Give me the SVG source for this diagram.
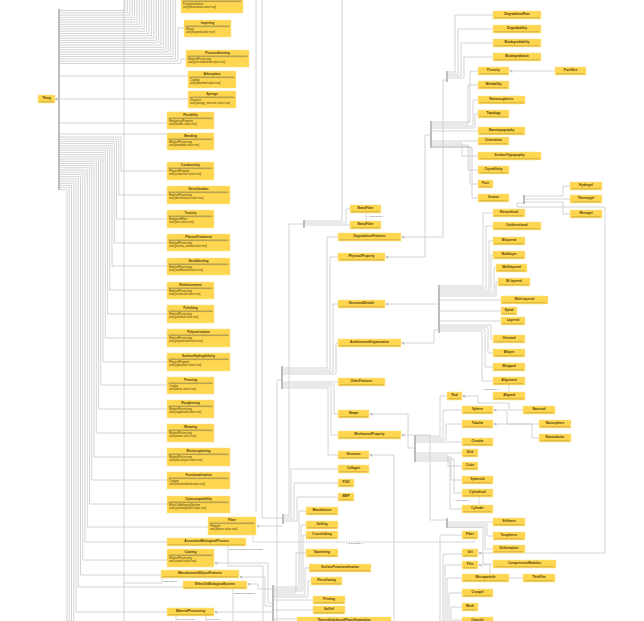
<svg xmlns="http://www.w3.org/2000/svg" width="644" height="621" viewBox="0 0 644 621">
<style>
.b{fill:#FFD64F;stroke:#FFE38F;stroke-width:.5}
.u{stroke:#B09838;stroke-width:.6}
.dv{fill:#B8A24F}
.t{font-family:"Liberation Sans",Arial,sans-serif;font-weight:bold;font-size:3.2px;fill:#4D3D08;text-anchor:middle}
.a{font-family:"Liberation Sans",Arial,sans-serif;font-size:2.7px;fill:#4D3D08}
.l{font-family:"Liberation Sans",Arial,sans-serif;font-size:2.5px;fill:#666}
.c path{fill:none;stroke:#C9C9C9;stroke-width:.8;stroke-linejoin:round}
.c path.m{marker-end:url(#ar)}
.k{fill:#BDBDBD}
.c path.eq{stroke:#AAA;stroke-dasharray:1.5 1;stroke-width:.7}
</style>
<defs>
<marker id="ar" viewBox="0 0 4 4" refX="3.5" refY="2" markerWidth="3" markerHeight="3" markerUnits="userSpaceOnUse" orient="auto"><path d="M0,0.3 L3.5,2 L0,3.7" fill="none" stroke="#999" stroke-width="0.8"/></marker>
</defs>
<rect width="644" height="621" fill="#fff"/>
<g id="connectors" class="c">
<rect class="k" x="58" y="9" width="2" height="181"/>
<path class="m" d="M58,99H55.5"/>
<path d="M60,10.5H125V0M60,12.8H127.4V0M60,15.1H129.8V0M60,17.4H132.2V0M60,19.7H134.6V0M60,22H137V0M60,24.3H139.4V0M60,26.6H141.8V0M60,28.9H144.2V0M60,31.2H146.6V0M60,33.5H149V0M60,35.8H151.4V0M60,38.1H153.8V0M60,40.4H156.2V0M60,42.7H158.6V0M60,45H161V0M60,47.3H163.4V0M60,49.6H165.8V0M60,51.9H168.2V0M60,54.2H170.6V0M60,56.5H173V0M60,58.8H175.4V0"/>
<path d="M60,61.1H178V28H184M60,63.4H181V59H186M60,76H188M60,99H188M60,123H167M60,134H167"/>
<path d="M60,137H121V171H167M60,139.2H118.75V195H167M60,141.4H116.5V219H167M60,143.6H114.25V243H167M60,145.8H112V266H167M60,148H109.75V290H167M60,150.2H107.5V314H167M60,152.4H105.25V338H167M60,154.6H103V362H167M60,156.8H100.75V385H167M60,159H98.5V409H167M60,161.2H96.25V433H167M60,163.4H94V457H167M60,165.6H91.75V480H167M60,167.8H89.5V504H167M60,170H87.25V527H208M60,172.2H85V542H167M60,174.4H82.75V560H167M60,176.6H80.5V575H161M60,178.8H78.25V587H183M60,181H76V612H167M60,183.2H73.75V621M60,185.4H71.5V621M60,187.6H69.25V621M60,189.8H67V621"/>
<path d="M124,0V621M124,583H162V578"/>
<path d="M228,546V566H263V621M233,589V621M176,616V621M206,616V621"/>
<rect class="k" x="281" y="366" width="2" height="23"/>
<path d="M283,368H327V237H338M283,370H330V257H338M283,372H333V304H338M283,374H336V343H338M283,382H338M283,384H334V414H338M283,386H331V435H338M283,388H328V455H338M281,380H277V621"/>
<rect class="k" x="303" y="220" width="2" height="8"/>
<path d="M305,221H342V0M305,223H346V209H350M305,225H350M303,224H289V515H284"/>
<rect class="k" x="282" y="514" width="2" height="10"/>
<path d="M284,517H291V469H338M284,519H294V483H338M284,521H297V497H338M262,0V518H282M256,0V512"/>
<path class="m" d="M282,526H257"/>
<path class="eq" d="M253,535V542H474V539"/>
<rect class="k" x="272" y="585" width="2" height="36"/>
<path d="M274,587H299V511H306M274,589H301V525H306M274,591H303V535H306M274,593H296V553H306M274,595H305V568H309M274,597H308V581H311M274,600H313M274,610H313M274,619H297"/>
<path class="m" d="M272,603H268V563H215"/>
<path class="m" d="M272,606H265V577H240"/>
<path class="m" d="M272,589H258V584H248"/>
<path class="m" d="M272,612H215"/>
<rect class="k" x="446" y="71" width="2" height="11"/>
<path d="M448,72H455V15H493M448,74H458V29H493M448,76H461V43H493M448,78H464V57H493"/>
<path class="m" d="M446,80H443V237H402"/>
<rect class="k" x="430" y="121" width="2" height="27"/>
<path d="M432,122H470V71H478M432,124H468V85H478M432,126H473V100H478M432,128H475V114H478M432,131H478M432,141H478M432,143H462V156H478M432,145H468V170H478M432,146.5H470V184H478M432,147.5H472V198H478"/>
<path class="m" d="M430,135H425V257H386"/>
<rect class="k" x="438" y="285" width="2" height="48"/>
<path d="M440,286H483V213H493M440,288H486V226H493M440,290H489V241H493M440,292H491V255H493M440,294H494V268H496M440,296H496V282H498M440,300H501M440,311H501M440,321H501M440,325H491V339H493M440,327H488V353H493M440,329H485V367H493M440,331H482V381H493"/>
<path class="m" d="M438,304H386"/>
<path class="m" d="M438,330H434V343H402"/>
<rect class="k" x="414" y="435" width="2" height="27"/>
<path class="m" d="M414,448H408V414H370"/>
<path d="M416,436H440V396H447M416,438H443V410H462M416,440H446V424H462M416,442H462M416,453H462M416,455H448V466H462M416,457H451V480H462M416,459H454V493H462M416,461H450V509H462"/>
<path d="M440,621V535H462M443,621V554H462M445,621V565H462M447,621V578H462M449,621V593H462M451,621V607H462M453,621V620H462"/>
<rect class="k" x="446" y="518" width="2" height="10"/>
<path d="M448,522H493M448,524H487V536H493M448,526H485V549H493M448,527.5H483V564H493"/>
<path class="m" d="M446,520H430V435H402"/>
<path class="m" d="M394,621V455H370"/>
<rect class="k" x="523" y="195" width="2" height="9"/>
<path d="M525,196H563V186H570M525,199H570M525,202H563V214H570"/>
<path class="m" d="M523,203H517V207H605V553H479"/>
<path class="m" d="M523,578H490V565H479"/>
<path class="m" d="M523,410H509V403H478V396H463"/>
<path class="m" d="M539,424H507V410H494"/>
<path class="m" d="M539,438H532V424H494"/>
<path class="m" d="M555,71H510"/>
<path class="eq" d="M366,213V221M509,385V392M479,497V505"/>
<text class="l" x="367" y="217">&lt;&lt;equivalent&gt;&gt;</text>
<text class="l" x="482" y="389.5">&lt;&lt;equivalent&gt;&gt;</text>
<text class="l" x="453" y="501">&lt;&lt;equivalent&gt;&gt;</text>
<text class="l" x="346" y="543.5">&lt;&lt;equivalent&gt;&gt;</text>
<text class="l" x="229" y="550">hasAssociatedCellularProcess</text>
<text class="l" x="163" y="582">hasFeatures</text>
<text class="l" x="234" y="594">hasBiologicalEffect</text>
<text class="l" x="177" y="620">isIncorporatedIn</text>
<text class="l" x="207" y="620">isFormedIn</text>
</g>
<g id="Thing"><rect class="b" x="38" y="95" width="17" height="8"/><text class="t" x="46.5" y="99.4">Thing</text><line class="u" x1="39.5" y1="101.8" x2="53.5" y2="101.8"/></g>
<g id="TopClass"><rect class="b" x="181" y="-5" width="62" height="18"/><rect class="dv" x="182.5" y="0.5" width="59" height="1.6"/><text class="a" x="183" y="4.8">Functionalization</text><text class="a" x="183" y="7.8">and [bifunctional value true]</text></g>
<g id="Inspiring"><rect class="b" x="184" y="20" width="47" height="17"/><text class="t" x="207.5" y="24.2">Inspiring</text><rect class="dv" x="185.5" y="25.5" width="44" height="1.6"/><text class="a" x="186" y="29.6">Mixing</text><text class="a" x="186" y="32.6">and [inspired value true]</text></g>
<g id="Preconditioning"><rect class="b" x="186" y="50" width="63" height="17"/><text class="t" x="217.5" y="54.2">Preconditioning</text><rect class="dv" x="187.5" y="55.5" width="60" height="1.6"/><text class="a" x="188" y="59.6">MaterialProcessing</text><text class="a" x="188" y="62.6">and [preconditioned value true]</text></g>
<g id="Adsorption"><rect class="b" x="188" y="71" width="48" height="17"/><text class="t" x="212" y="75.2">Adsorption</text><rect class="dv" x="189.5" y="76.5" width="45" height="1.6"/><text class="a" x="190" y="80.6">Coating</text><text class="a" x="190" y="83.6">and [adsorbed value true]</text></g>
<g id="Sponge"><rect class="b" x="188" y="91" width="48" height="17"/><text class="t" x="212" y="95.2">Sponge</text><rect class="dv" x="189.5" y="96.5" width="45" height="1.6"/><text class="a" x="190" y="100.6">Structure</text><text class="a" x="190" y="103.6">and [spongy_structure value true]</text></g>
<g id="Flexibility"><rect class="b" x="167" y="112" width="47" height="17"/><text class="t" x="190.5" y="116.2">Flexibility</text><rect class="dv" x="168.5" y="117.5" width="44" height="1.6"/><text class="a" x="169" y="121.6">MechanicalProperty</text><text class="a" x="169" y="124.6">and [flexible value true]</text></g>
<g id="Bending"><rect class="b" x="167" y="133" width="47" height="17"/><text class="t" x="190.5" y="137.2">Bending</text><rect class="dv" x="168.5" y="138.5" width="44" height="1.6"/><text class="a" x="169" y="142.6">MaterialProcessing</text><text class="a" x="169" y="145.6">and [bendable value true]</text></g>
<g id="Conductivity"><rect class="b" x="167" y="162" width="47" height="18"/><text class="t" x="190.5" y="166.2">Conductivity</text><rect class="dv" x="168.5" y="167.5" width="44" height="1.6"/><text class="a" x="169" y="171.6">PhysicalProperty</text><text class="a" x="169" y="174.6">and [conductive value true]</text></g>
<g id="Densification"><rect class="b" x="167" y="186" width="63" height="18"/><text class="t" x="198.5" y="190.2">Densification</text><rect class="dv" x="168.5" y="191.5" width="60" height="1.6"/><text class="a" x="169" y="195.6">MaterialProcessing</text><text class="a" x="169" y="198.6">and [densification value true]</text></g>
<g id="Toxicity"><rect class="b" x="167" y="210" width="47" height="18"/><text class="t" x="190.5" y="214.2">Toxicity</text><rect class="dv" x="168.5" y="215.5" width="44" height="1.6"/><text class="a" x="169" y="219.6">BiologicalEffect</text><text class="a" x="169" y="222.6">and [toxic value true]</text></g>
<g id="PlasmaTreatment"><rect class="b" x="167" y="234" width="63" height="17"/><text class="t" x="198.5" y="238.2">PlasmaTreatment</text><rect class="dv" x="168.5" y="239.5" width="60" height="1.6"/><text class="a" x="169" y="243.6">MaterialProcessing</text><text class="a" x="169" y="246.6">and [plasma_treated value true]</text></g>
<g id="Sandblasting"><rect class="b" x="167" y="258" width="63" height="17"/><text class="t" x="198.5" y="262.2">Sandblasting</text><rect class="dv" x="168.5" y="263.5" width="60" height="1.6"/><text class="a" x="169" y="267.6">MaterialProcessing</text><text class="a" x="169" y="270.6">and [sandblasted value true]</text></g>
<g id="Reinforcement"><rect class="b" x="167" y="282" width="47" height="17"/><text class="t" x="190.5" y="286.2">Reinforcement</text><rect class="dv" x="168.5" y="287.5" width="44" height="1.6"/><text class="a" x="169" y="291.6">MaterialProcessing</text><text class="a" x="169" y="294.6">and [reinforced value true]</text></g>
<g id="Polishing"><rect class="b" x="167" y="305" width="47" height="18"/><text class="t" x="190.5" y="309.2">Polishing</text><rect class="dv" x="168.5" y="310.5" width="44" height="1.6"/><text class="a" x="169" y="314.6">MaterialProcessing</text><text class="a" x="169" y="317.6">and [polished value true]</text></g>
<g id="Polymerization"><rect class="b" x="167" y="329" width="63" height="18"/><text class="t" x="198.5" y="333.2">Polymerization</text><rect class="dv" x="168.5" y="334.5" width="60" height="1.6"/><text class="a" x="169" y="338.6">MaterialProcessing</text><text class="a" x="169" y="341.6">and [polymerized value true]</text></g>
<g id="SurfaceHydrophilicity"><rect class="b" x="167" y="353" width="63" height="18"/><text class="t" x="198.5" y="357.2">SurfaceHydrophilicity</text><rect class="dv" x="168.5" y="358.5" width="60" height="1.6"/><text class="a" x="169" y="362.6">PhysicalProperty</text><text class="a" x="169" y="365.6">and [hydrophilic value true]</text></g>
<g id="Freezing"><rect class="b" x="167" y="377" width="47" height="17"/><text class="t" x="190.5" y="381.2">Freezing</text><rect class="dv" x="168.5" y="382.5" width="44" height="1.6"/><text class="a" x="169" y="386.6">Cooling</text><text class="a" x="169" y="389.6">and [frozen value true]</text></g>
<g id="Roughening"><rect class="b" x="167" y="400" width="47" height="18"/><text class="t" x="190.5" y="404.2">Roughening</text><rect class="dv" x="168.5" y="405.5" width="44" height="1.6"/><text class="a" x="169" y="409.6">MaterialProcessing</text><text class="a" x="169" y="412.6">and [roughened value true]</text></g>
<g id="Weaving"><rect class="b" x="167" y="424" width="47" height="18"/><text class="t" x="190.5" y="428.2">Weaving</text><rect class="dv" x="168.5" y="429.5" width="44" height="1.6"/><text class="a" x="169" y="433.6">MaterialProcessing</text><text class="a" x="169" y="436.6">and [woven value true]</text></g>
<g id="Electrospinning"><rect class="b" x="167" y="448" width="63" height="18"/><text class="t" x="198.5" y="452.2">Electrospinning</text><rect class="dv" x="168.5" y="453.5" width="60" height="1.6"/><text class="a" x="169" y="457.6">MaterialProcessing</text><text class="a" x="169" y="460.6">and [electrospun value true]</text></g>
<g id="Functionalization"><rect class="b" x="167" y="472" width="63" height="17"/><text class="t" x="198.5" y="476.2">Functionalization</text><rect class="dv" x="168.5" y="477.5" width="60" height="1.6"/><text class="a" x="169" y="481.6">Coating</text><text class="a" x="169" y="484.6">and [functionalized value true]</text></g>
<g id="Cytocompatibility"><rect class="b" x="167" y="496" width="63" height="17"/><text class="t" x="198.5" y="500.2">Cytocompatibility</text><rect class="dv" x="168.5" y="501.5" width="60" height="1.6"/><text class="a" x="169" y="505.6">EffectOnBiologicalSystem</text><text class="a" x="169" y="508.6">and [cytocompatible value true]</text></g>
<g id="FiberL"><rect class="b" x="208" y="517" width="48" height="18"/><text class="t" x="232" y="521.2">Fiber</text><rect class="dv" x="209.5" y="522.5" width="45" height="1.6"/><text class="a" x="210" y="526.6">Filament</text><text class="a" x="210" y="529.6">and [fibrous value true]</text></g>
<g id="Coating"><rect class="b" x="167" y="549" width="47" height="18"/><text class="t" x="190.5" y="553.2">Coating</text><rect class="dv" x="168.5" y="554.5" width="44" height="1.6"/><text class="a" x="169" y="558.6">MaterialProcessing</text><text class="a" x="169" y="561.6">and [coated value true]</text></g>
<g id="AssociatedBiologicalProcess"><rect class="b" x="167" y="538" width="79" height="8"/><text class="t" x="206.5" y="542.4">AssociatedBiologicalProcess</text><line class="u" x1="168.5" y1="544.8" x2="244.5" y2="544.8"/></g>
<g id="ManufacturedObjectFeatures"><rect class="b" x="161" y="570" width="78" height="8"/><text class="t" x="200" y="574.4">ManufacturedObjectFeatures</text><line class="u" x1="162.5" y1="576.8" x2="237.5" y2="576.8"/></g>
<g id="EffectOnBiologicalSystem"><rect class="b" x="183" y="581" width="64" height="8"/><text class="t" x="215" y="585.4">EffectOnBiologicalSystem</text><line class="u" x1="184.5" y1="587.8" x2="245.5" y2="587.8"/></g>
<g id="MaterialProcessing"><rect class="b" x="167" y="608" width="47" height="8"/><text class="t" x="190.5" y="612.4">MaterialProcessing</text><line class="u" x1="168.5" y1="614.8" x2="212.5" y2="614.8"/></g>
<g id="NanoFiber1"><rect class="b" x="350" y="205" width="31" height="8"/><text class="t" x="365.5" y="209.4">NanoFiber</text><line class="u" x1="351.5" y1="211.8" x2="379.5" y2="211.8"/></g>
<g id="NanoFiber2"><rect class="b" x="350" y="221" width="31" height="8"/><text class="t" x="365.5" y="225.4">NanoFiber</text><line class="u" x1="351.5" y1="227.8" x2="379.5" y2="227.8"/></g>
<g id="DegradationFeatures"><rect class="b" x="338" y="233" width="63" height="8"/><text class="t" x="369.5" y="237.4">DegradationFeatures</text><line class="u" x1="339.5" y1="239.8" x2="399.5" y2="239.8"/></g>
<g id="PhysicalProperty"><rect class="b" x="338" y="253" width="47" height="8"/><text class="t" x="361.5" y="257.4">PhysicalProperty</text><line class="u" x1="339.5" y1="259.8" x2="383.5" y2="259.8"/></g>
<g id="StructuralDetails"><rect class="b" x="338" y="300" width="47" height="8"/><text class="t" x="361.5" y="304.4">StructuralDetails</text><line class="u" x1="339.5" y1="306.8" x2="383.5" y2="306.8"/></g>
<g id="ArchitecturalOrganization"><rect class="b" x="338" y="339" width="63" height="8"/><text class="t" x="369.5" y="343.4">ArchitecturalOrganization</text><line class="u" x1="339.5" y1="345.8" x2="399.5" y2="345.8"/></g>
<g id="OtherFeatures"><rect class="b" x="338" y="378" width="47" height="8"/><text class="t" x="361.5" y="382.4">OtherFeatures</text><line class="u" x1="339.5" y1="384.8" x2="383.5" y2="384.8"/></g>
<g id="Shape"><rect class="b" x="338" y="410" width="31" height="8"/><text class="t" x="353.5" y="414.4">Shape</text><line class="u" x1="339.5" y1="416.8" x2="367.5" y2="416.8"/></g>
<g id="MechanicalProperty"><rect class="b" x="338" y="431" width="63" height="8"/><text class="t" x="369.5" y="435.4">MechanicalProperty</text><line class="u" x1="339.5" y1="437.8" x2="399.5" y2="437.8"/></g>
<g id="Structure"><rect class="b" x="338" y="451" width="31" height="8"/><text class="t" x="353.5" y="455.4">Structure</text><line class="u" x1="339.5" y1="457.8" x2="367.5" y2="457.8"/></g>
<g id="Collagen"><rect class="b" x="338" y="465" width="31" height="8"/><text class="t" x="353.5" y="469.4">Collagen</text><line class="u" x1="339.5" y1="471.8" x2="367.5" y2="471.8"/></g>
<g id="PGD"><rect class="b" x="338" y="479" width="16" height="8"/><text class="t" x="346" y="483.4">PGD</text><line class="u" x1="339.5" y1="485.8" x2="352.5" y2="485.8"/></g>
<g id="BMP"><rect class="b" x="338" y="493" width="16" height="8"/><text class="t" x="346" y="497.4">BMP</text><line class="u" x1="339.5" y1="499.8" x2="352.5" y2="499.8"/></g>
<g id="Manufacture"><rect class="b" x="306" y="507" width="32" height="8"/><text class="t" x="322" y="511.4">Manufacture</text><line class="u" x1="307.5" y1="513.8" x2="336.5" y2="513.8"/></g>
<g id="Gelling"><rect class="b" x="306" y="521" width="32" height="8"/><text class="t" x="322" y="525.4">Gelling</text><line class="u" x1="307.5" y1="527.8" x2="336.5" y2="527.8"/></g>
<g id="Crosslinking"><rect class="b" x="306" y="531" width="32" height="8"/><text class="t" x="322" y="535.4">Crosslinking</text><line class="u" x1="307.5" y1="537.8" x2="336.5" y2="537.8"/></g>
<g id="Sputtering"><rect class="b" x="306" y="549" width="32" height="8"/><text class="t" x="322" y="553.4">Sputtering</text><line class="u" x1="307.5" y1="555.8" x2="336.5" y2="555.8"/></g>
<g id="SurfaceFunctionalization"><rect class="b" x="309" y="564" width="62" height="8"/><text class="t" x="340" y="568.4">SurfaceFunctionalization</text><line class="u" x1="310.5" y1="570.8" x2="369.5" y2="570.8"/></g>
<g id="Resurfacing"><rect class="b" x="311" y="577" width="31" height="8"/><text class="t" x="326.5" y="581.4">Resurfacing</text><line class="u" x1="312.5" y1="583.8" x2="340.5" y2="583.8"/></g>
<g id="Printing"><rect class="b" x="313" y="596" width="32" height="8"/><text class="t" x="329" y="600.4">Printing</text><line class="u" x1="314.5" y1="602.8" x2="343.5" y2="602.8"/></g>
<g id="SolGel"><rect class="b" x="313" y="606" width="32" height="8"/><text class="t" x="329" y="610.4">SolGel</text><line class="u" x1="314.5" y1="612.8" x2="343.5" y2="612.8"/></g>
<g id="ThermallyInducedPhaseSeparation"><rect class="b" x="297" y="617" width="94" height="8"/><text class="t" x="344" y="621.2">ThermallyInducedPhaseSeparation</text></g>
<g id="DegradationRate"><rect class="b" x="493" y="11" width="48" height="8"/><text class="t" x="517" y="15.4">DegradationRate</text><line class="u" x1="494.5" y1="17.8" x2="539.5" y2="17.8"/></g>
<g id="Degradability"><rect class="b" x="493" y="25" width="48" height="8"/><text class="t" x="517" y="29.4">Degradability</text><line class="u" x1="494.5" y1="31.8" x2="539.5" y2="31.8"/></g>
<g id="Biodegradability"><rect class="b" x="493" y="39" width="48" height="8"/><text class="t" x="517" y="43.4">Biodegradability</text><line class="u" x1="494.5" y1="45.8" x2="539.5" y2="45.8"/></g>
<g id="Biodegradation"><rect class="b" x="493" y="53" width="48" height="8"/><text class="t" x="517" y="57.4">Biodegradation</text><line class="u" x1="494.5" y1="59.8" x2="539.5" y2="59.8"/></g>
<g id="Porosity"><rect class="b" x="478" y="67" width="31" height="8"/><text class="t" x="493.5" y="71.4">Porosity</text><line class="u" x1="479.5" y1="73.8" x2="507.5" y2="73.8"/></g>
<g id="PoreSize"><rect class="b" x="555" y="67" width="31" height="8"/><text class="t" x="570.5" y="71.4">PoreSize</text><line class="u" x1="556.5" y1="73.8" x2="584.5" y2="73.8"/></g>
<g id="Wettability"><rect class="b" x="478" y="81" width="31" height="8"/><text class="t" x="493.5" y="85.4">Wettability</text><line class="u" x1="479.5" y1="87.8" x2="507.5" y2="87.8"/></g>
<g id="Nanoroughness"><rect class="b" x="478" y="96" width="47" height="8"/><text class="t" x="501.5" y="100.4">Nanoroughness</text><line class="u" x1="479.5" y1="102.8" x2="523.5" y2="102.8"/></g>
<g id="Topology"><rect class="b" x="478" y="110" width="31" height="8"/><text class="t" x="493.5" y="114.4">Topology</text><line class="u" x1="479.5" y1="116.8" x2="507.5" y2="116.8"/></g>
<g id="Nanotopography"><rect class="b" x="478" y="127" width="47" height="8"/><text class="t" x="501.5" y="131.4">Nanotopography</text><line class="u" x1="479.5" y1="133.8" x2="523.5" y2="133.8"/></g>
<g id="Orientation"><rect class="b" x="478" y="137" width="31" height="8"/><text class="t" x="493.5" y="141.4">Orientation</text><line class="u" x1="479.5" y1="143.8" x2="507.5" y2="143.8"/></g>
<g id="SurfaceTopography"><rect class="b" x="478" y="152" width="63" height="8"/><text class="t" x="509.5" y="156.4">SurfaceTopography</text><line class="u" x1="479.5" y1="158.8" x2="539.5" y2="158.8"/></g>
<g id="Crystallinity"><rect class="b" x="478" y="166" width="31" height="8"/><text class="t" x="493.5" y="170.4">Crystallinity</text><line class="u" x1="479.5" y1="172.8" x2="507.5" y2="172.8"/></g>
<g id="Pore"><rect class="b" x="478" y="180" width="15" height="8"/><text class="t" x="485.5" y="184.4">Pore</text><line class="u" x1="479.5" y1="186.8" x2="491.5" y2="186.8"/></g>
<g id="Groove"><rect class="b" x="478" y="194" width="31" height="8"/><text class="t" x="493.5" y="198.4">Groove</text><line class="u" x1="479.5" y1="200.8" x2="507.5" y2="200.8"/></g>
<g id="Hydrogel"><rect class="b" x="570" y="182" width="32" height="8"/><text class="t" x="586" y="186.4">Hydrogel</text><line class="u" x1="571.5" y1="188.8" x2="600.5" y2="188.8"/></g>
<g id="Thermogel"><rect class="b" x="570" y="195" width="32" height="8"/><text class="t" x="586" y="199.4">Thermogel</text><line class="u" x1="571.5" y1="201.8" x2="600.5" y2="201.8"/></g>
<g id="Microgel"><rect class="b" x="570" y="210" width="32" height="8"/><text class="t" x="586" y="214.4">Microgel</text><line class="u" x1="571.5" y1="216.8" x2="600.5" y2="216.8"/></g>
<g id="Hierarchical"><rect class="b" x="493" y="209" width="32" height="8"/><text class="t" x="509" y="213.4">Hierarchical</text><line class="u" x1="494.5" y1="215.8" x2="523.5" y2="215.8"/></g>
<g id="Unidirectional"><rect class="b" x="493" y="222" width="48" height="8"/><text class="t" x="517" y="226.4">Unidirectional</text><line class="u" x1="494.5" y1="228.8" x2="539.5" y2="228.8"/></g>
<g id="Bilayered"><rect class="b" x="493" y="237" width="32" height="8"/><text class="t" x="509" y="241.4">Bilayered</text><line class="u" x1="494.5" y1="243.8" x2="523.5" y2="243.8"/></g>
<g id="Multilayer"><rect class="b" x="493" y="251" width="32" height="8"/><text class="t" x="509" y="255.4">Multilayer</text><line class="u" x1="494.5" y1="257.8" x2="523.5" y2="257.8"/></g>
<g id="Multilayered"><rect class="b" x="496" y="264" width="31" height="8"/><text class="t" x="511.5" y="268.4">Multilayered</text><line class="u" x1="497.5" y1="270.8" x2="525.5" y2="270.8"/></g>
<g id="Bi-layered"><rect class="b" x="498" y="278" width="32" height="8"/><text class="t" x="514" y="282.4">Bi-layered</text><line class="u" x1="499.5" y1="284.8" x2="528.5" y2="284.8"/></g>
<g id="Multi-layered"><rect class="b" x="501" y="296" width="47" height="8"/><text class="t" x="524.5" y="300.4">Multi-layered</text><line class="u" x1="502.5" y1="302.8" x2="546.5" y2="302.8"/></g>
<g id="Spiral"><rect class="b" x="501" y="307" width="16" height="8"/><text class="t" x="509" y="311.4">Spiral</text><line class="u" x1="502.5" y1="313.8" x2="515.5" y2="313.8"/></g>
<g id="Layered"><rect class="b" x="501" y="317" width="24" height="8"/><text class="t" x="513" y="321.4">Layered</text><line class="u" x1="502.5" y1="323.8" x2="523.5" y2="323.8"/></g>
<g id="Oriented"><rect class="b" x="493" y="335" width="32" height="8"/><text class="t" x="509" y="339.4">Oriented</text><line class="u" x1="494.5" y1="341.8" x2="523.5" y2="341.8"/></g>
<g id="Bilayer"><rect class="b" x="493" y="349" width="32" height="8"/><text class="t" x="509" y="353.4">Bilayer</text><line class="u" x1="494.5" y1="355.8" x2="523.5" y2="355.8"/></g>
<g id="Wrapped"><rect class="b" x="493" y="363" width="32" height="8"/><text class="t" x="509" y="367.4">Wrapped</text><line class="u" x1="494.5" y1="369.8" x2="523.5" y2="369.8"/></g>
<g id="Alignment"><rect class="b" x="493" y="377" width="32" height="8"/><text class="t" x="509" y="381.4">Alignment</text><line class="u" x1="494.5" y1="383.8" x2="523.5" y2="383.8"/></g>
<g id="Aligned"><rect class="b" x="493" y="392" width="32" height="8"/><text class="t" x="509" y="396.4">Aligned</text><line class="u" x1="494.5" y1="398.8" x2="523.5" y2="398.8"/></g>
<g id="Rod"><rect class="b" x="447" y="392" width="15" height="8"/><text class="t" x="454.5" y="396.4">Rod</text><line class="u" x1="448.5" y1="398.8" x2="460.5" y2="398.8"/></g>
<g id="Sphere"><rect class="b" x="462" y="406" width="31" height="8"/><text class="t" x="477.5" y="410.4">Sphere</text><line class="u" x1="463.5" y1="412.8" x2="491.5" y2="412.8"/></g>
<g id="Nanorod"><rect class="b" x="523" y="406" width="32" height="8"/><text class="t" x="539" y="410.4">Nanorod</text><line class="u" x1="524.5" y1="412.8" x2="553.5" y2="412.8"/></g>
<g id="Tubular"><rect class="b" x="462" y="420" width="31" height="8"/><text class="t" x="477.5" y="424.4">Tubular</text><line class="u" x1="463.5" y1="426.8" x2="491.5" y2="426.8"/></g>
<g id="Nanosphere"><rect class="b" x="539" y="420" width="32" height="8"/><text class="t" x="555" y="424.4">Nanosphere</text><line class="u" x1="540.5" y1="426.8" x2="569.5" y2="426.8"/></g>
<g id="Nanotubular"><rect class="b" x="539" y="434" width="32" height="8"/><text class="t" x="555" y="438.4">Nanotubular</text><line class="u" x1="540.5" y1="440.8" x2="569.5" y2="440.8"/></g>
<g id="Circular"><rect class="b" x="462" y="438" width="31" height="8"/><text class="t" x="477.5" y="442.4">Circular</text><line class="u" x1="463.5" y1="444.8" x2="491.5" y2="444.8"/></g>
<g id="Disk"><rect class="b" x="462" y="449" width="16" height="8"/><text class="t" x="470" y="453.4">Disk</text><line class="u" x1="463.5" y1="455.8" x2="476.5" y2="455.8"/></g>
<g id="Cube"><rect class="b" x="462" y="462" width="16" height="8"/><text class="t" x="470" y="466.4">Cube</text><line class="u" x1="463.5" y1="468.8" x2="476.5" y2="468.8"/></g>
<g id="Spheroid"><rect class="b" x="462" y="476" width="31" height="8"/><text class="t" x="477.5" y="480.4">Spheroid</text><line class="u" x1="463.5" y1="482.8" x2="491.5" y2="482.8"/></g>
<g id="Cylindrical"><rect class="b" x="462" y="489" width="31" height="8"/><text class="t" x="477.5" y="493.4">Cylindrical</text><line class="u" x1="463.5" y1="495.8" x2="491.5" y2="495.8"/></g>
<g id="Cylinder"><rect class="b" x="462" y="505" width="31" height="8"/><text class="t" x="477.5" y="509.4">Cylinder</text><line class="u" x1="463.5" y1="511.8" x2="491.5" y2="511.8"/></g>
<g id="Stiffness"><rect class="b" x="493" y="518" width="32" height="8"/><text class="t" x="509" y="522.4">Stiffness</text><line class="u" x1="494.5" y1="524.8" x2="523.5" y2="524.8"/></g>
<g id="Toughness"><rect class="b" x="493" y="532" width="32" height="8"/><text class="t" x="509" y="536.4">Toughness</text><line class="u" x1="494.5" y1="538.8" x2="523.5" y2="538.8"/></g>
<g id="FiberR"><rect class="b" x="462" y="531" width="16" height="8"/><text class="t" x="470" y="535.4">Fiber</text><line class="u" x1="463.5" y1="537.8" x2="476.5" y2="537.8"/></g>
<g id="Deformation"><rect class="b" x="493" y="545" width="32" height="8"/><text class="t" x="509" y="549.4">Deformation</text><line class="u" x1="494.5" y1="551.8" x2="523.5" y2="551.8"/></g>
<g id="Gel"><rect class="b" x="462" y="549" width="16" height="8"/><text class="t" x="470" y="553.4">Gel</text><line class="u" x1="463.5" y1="555.8" x2="476.5" y2="555.8"/></g>
<g id="CompressiveModulus"><rect class="b" x="493" y="560" width="63" height="8"/><text class="t" x="524.5" y="564.4">CompressiveModulus</text><line class="u" x1="494.5" y1="566.8" x2="554.5" y2="566.8"/></g>
<g id="Film"><rect class="b" x="462" y="561" width="16" height="8"/><text class="t" x="470" y="565.4">Film</text><line class="u" x1="463.5" y1="567.8" x2="476.5" y2="567.8"/></g>
<g id="ThinFilm"><rect class="b" x="523" y="574" width="32" height="8"/><text class="t" x="539" y="578.4">ThinFilm</text><line class="u" x1="524.5" y1="580.8" x2="553.5" y2="580.8"/></g>
<g id="Microparticle"><rect class="b" x="462" y="574" width="47" height="8"/><text class="t" x="485.5" y="578.4">Microparticle</text><line class="u" x1="463.5" y1="580.8" x2="507.5" y2="580.8"/></g>
<g id="Cryogel"><rect class="b" x="462" y="589" width="31" height="8"/><text class="t" x="477.5" y="593.4">Cryogel</text><line class="u" x1="463.5" y1="595.8" x2="491.5" y2="595.8"/></g>
<g id="Mesh"><rect class="b" x="462" y="603" width="16" height="8"/><text class="t" x="470" y="607.4">Mesh</text><line class="u" x1="463.5" y1="609.8" x2="476.5" y2="609.8"/></g>
<g id="Capsule"><rect class="b" x="462" y="617" width="31" height="8"/><text class="t" x="477.5" y="621.2">Capsule</text></g>
</svg>
